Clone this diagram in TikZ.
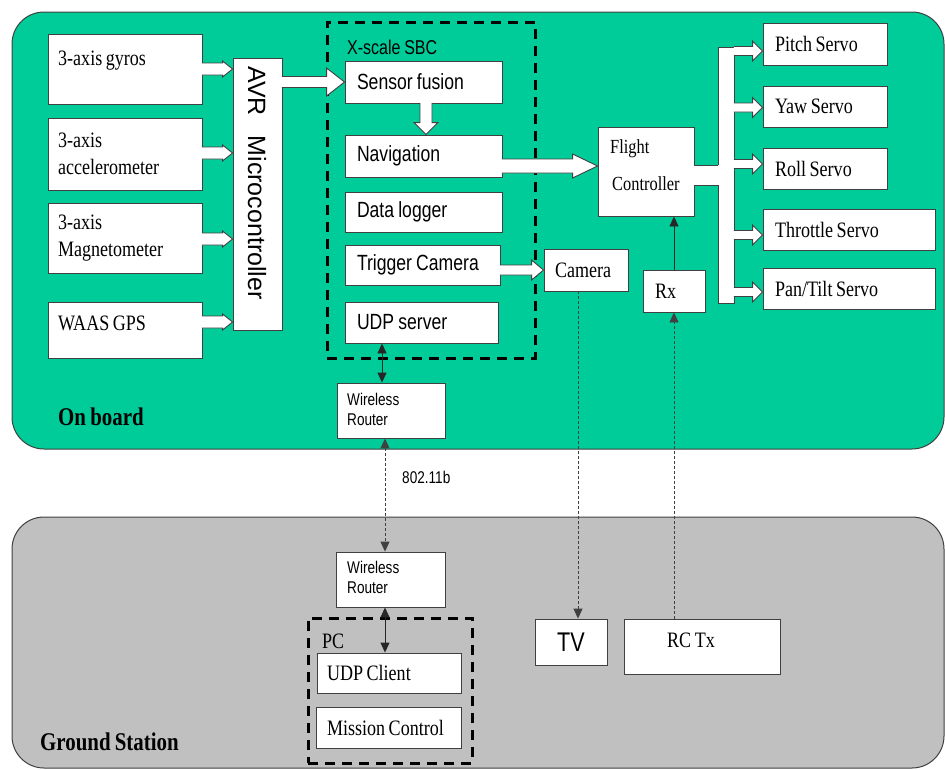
\documentclass[tikz,border=0pt]{standalone}
\usepackage{fontspec}
\setmainfont{Liberation Serif}
\newfontfamily\tms{Liberation Serif}[FakeStretch=0.82, WordSpace=0.8]
\newfontfamily\arl{Liberation Sans}[FakeStretch=0.8, WordSpace=0.85]
\newfontfamily\arlw{Liberation Sans}
\usetikzlibrary{calc,arrows.meta}
\definecolor{board}{RGB}{0,204,153}
\definecolor{ground}{RGB}{192,192,192}
\definecolor{edge}{RGB}{64,64,64}

\tikzset{
  bx/.style={draw=edge, fill=white, line width=0.9pt, inner ysep=0pt, align=flush left},
  serif/.style={font=\tms\fontsize{22}{27}\selectfont},
  sans/.style={font=\arl\fontsize{22}{26}\selectfont},
  small/.style={font=\arl\fontsize{17}{20}\selectfont},
  title/.style={font=\tms\bfseries\fontsize{25.5}{30}\selectfont, anchor=base west, inner sep=0pt},
  group/.style={draw=black, line width=3pt, dash pattern=on 10pt off 7pt, inner sep=0pt},
  blockarrow/.style={fill=white, draw=edge, line width=0.9pt, line join=miter},
  link/.style={draw=black!85, line width=0.9pt},
  radio/.style={draw=black!75, line width=0.9pt, dash pattern=on 3pt off 2pt},
  tip/.tip={Triangle[length=10pt,width=9pt]}
}

% horizontal block arrow: start, target (x only), half shaft, half head, head length
\newcommand{\harr}[5]{%
  \path[blockarrow] let \p1=(#1), \p2=(#2) in
    (\x1-0.6pt,\y1+#3) -- (\x2-#5,\y1+#3) -- (\x2-#5,\y1+#4) -- (\x2,\y1)
    -- (\x2-#5,\y1-#4) -- (\x2-#5,\y1-#3) -- (\x1-0.6pt,\y1-#3);}
% downward block arrow: start, target (y only), half shaft, half head, head length
\newcommand{\varr}[5]{%
  \path[blockarrow] let \p1=(#1), \p2=(#2) in
    (\x1+#3,\y1+0.6pt) -- (\x1+#3,\y2+#5) -- (\x1+#4,\y2+#5) -- (\x1,\y2)
    -- (\x1-#4,\y2+#5) -- (\x1-#3,\y2+#5) -- (\x1-#3,\y1+0.6pt);}

\begin{document}
\begin{tikzpicture}[x=1pt, y=-1pt]
\useasboundingbox (0,0) rectangle (945,769);

% the two regions
\draw[fill=board, draw=edge, line width=1pt, rounded corners=32pt] (12,12) rectangle (944,449);
\draw[fill=ground, draw=edge, line width=1pt, rounded corners=32pt] (12,517) rectangle (944,768);

% sensors
\node[bx, minimum width=154pt, minimum height=70pt] (gyro) at (125,69) {};
\node[serif, anchor=base west, inner sep=0pt] (gyrot) at (58,65) {3-axis gyros};
\node[bx, serif, minimum width=154pt, minimum height=72pt, text width=134pt, inner xsep=10pt] (acc) at (125,154) {3-axis\\accelerometer};
\node[bx, serif, minimum width=154pt, minimum height=70pt, text width=134pt, inner xsep=10pt] (mag) at (125,238) {3-axis\\Magnetometer};
\node[bx, minimum width=154pt, minimum height=56pt] (gps) at (125,330) {};
\node[serif, anchor=base west, inner sep=0pt] (gpst) at (58,330) {WAAS GPS};

% microcontroller
\node[bx, minimum width=49pt, minimum height=272pt] (avr) at (257.5,194) {};
\node[font=\arlw\fontsize{25}{30}\selectfont, rotate=-90, inner sep=0pt] (avrt) at (257,183) {AVR\hspace{0.8em}Microcontroller};

% single board computer
\node[group, minimum width=208pt, minimum height=336pt] (sbc) at (431,190) {};
\node[font=\arl\fontsize{20}{24}\selectfont, anchor=base west, inner sep=0pt] (sbct) at (347,54) {X-scale SBC};
\node[bx, sans, minimum width=157pt, minimum height=42pt, text width=133pt, inner xsep=12pt] (sf) at (423.5,82) {Sensor fusion};
\node[bx, sans, minimum width=157pt, minimum height=42pt, text width=133pt, inner xsep=12pt] (nav) at (423.5,156) {Navigation};
\node[bx, sans, minimum width=157pt, minimum height=40pt, text width=133pt, inner xsep=12pt] (dlog) at (423.5,212) {Data logger};
\node[bx, sans, minimum width=155pt, minimum height=40pt, text width=131pt, inner xsep=12pt] (trig) at (422.5,265) {Trigger Camera};
\node[bx, sans, minimum width=153pt, minimum height=41pt, text width=129pt, inner xsep=12pt] (udp) at (421.5,322.5) {UDP server};

% flight control
\node[bx, minimum width=96pt, minimum height=89pt] (flight) at (646,171.5) {};
\node[font=\tms\fontsize{20}{37}\selectfont, anchor=north west, inner sep=0pt, align=flush left] (flightt) at (610,139) {Flight\\\hspace*{2pt}Controller};
\node[bx, serif, minimum width=62pt, minimum height=42pt, text width=38pt, inner xsep=12pt] (rx) at (674,291) {Rx};
\node[bx, serif, minimum width=84pt, minimum height=42pt, text width=62pt, inner xsep=11pt] (cam) at (586,270) {Camera};

% servos
\node[bx, serif, minimum width=124pt, minimum height=42pt, text width=100pt, inner xsep=12pt] (pitch) at (825,44) {Pitch Servo};
\node[bx, serif, minimum width=124pt, minimum height=41pt, text width=100pt, inner xsep=12pt] (yaw) at (825,106.5) {Yaw Servo};
\node[bx, serif, minimum width=124pt, minimum height=41pt, text width=100pt, inner xsep=12pt] (roll) at (825,168.5) {Roll Servo};
\node[bx, serif, minimum width=172pt, minimum height=41pt, text width=148pt, inner xsep=12pt] (thr) at (849,229.5) {Throttle Servo};
\node[bx, serif, minimum width=172pt, minimum height=41pt, text width=148pt, inner xsep=12pt] (pan) at (849,288.5) {Pan/Tilt Servo};

% servo bus
\node[draw=edge, fill=white, line width=0.9pt, minimum width=16pt, minimum height=256pt, inner sep=0pt] (bus) at (726,175) {};
\fill[white] (693,165) rectangle (718.5,185);
\draw[draw=edge, line width=0.9pt] (694,165) -- (718,165) (694,185) -- (718,185);

% onboard router
\node[bx, minimum width=108pt, minimum height=55pt] (r1) at (391,410.5) {};
\node[small, anchor=north west, inner sep=0pt, align=flush left] (r1t) at (347,393) {Wireless\\Router};

% ground station
\node[bx, minimum width=109pt, minimum height=55pt] (r2) at (390.5,579.5) {};
\node[small, anchor=north west, inner sep=0pt, align=flush left] (r2t) at (347,561) {Wireless\\Router};
\node[group, minimum width=164pt, minimum height=145pt] (pc) at (390,690.5) {};
\node[serif, anchor=base west, inner sep=0pt] (pct) at (322,648) {PC};
\node[bx, serif, minimum width=144pt, minimum height=40pt, text width=124pt, inner xsep=10pt] (uc) at (389,673) {UDP Client};
\node[bx, serif, minimum width=145pt, minimum height=41pt, text width=123pt, inner xsep=11pt] (mc) at (388.5,727.5) {Mission Control};
\node[bx, font=\arl\fontsize{27}{30}\selectfont, minimum width=72pt, minimum height=46pt, align=center] (tv) at (571,642) {TV};
\node[bx, minimum width=156pt, minimum height=55pt] (rctx) at (702,646.5) {};
\node[serif, anchor=base west, inner sep=0pt] (rctxt) at (667,647) {RC Tx};

% region titles and link label
\node[title] (onb) at (58,425) {On board};
\node[title] (gst) at (40,750) {Ground Station};
\node[small, anchor=base west, inner sep=0pt] (wifi) at (402,483) {802.11b};

% block arrows
\harr{gyro.east}{avr.west}{6pt}{8pt}{10pt}
\harr{$(acc.east)+(0,-1)$}{avr.west}{6pt}{8pt}{10pt}
\harr{$(mag.east)+(0,1)$}{avr.west}{6pt}{8pt}{10pt}
\harr{$(gps.east)+(0,-8)$}{avr.west}{6pt}{8pt}{10pt}
\harr{avr.east |- sf.west}{sf.west}{5.5pt}{14pt}{18pt}
\varr{$(sf.south)+(2.5,0)$}{nav.north}{6pt}{12pt}{12pt}
\harr{$(nav.east)+(0,10)$}{flight.west}{7pt}{12pt}{25pt}
\harr{trig.east |- cam.west}{cam.west}{5pt}{10pt}{12pt}
\harr{$(bus.east |- pitch.west)+(0,7)$}{pitch.west}{4.5pt}{10pt}{10pt}
\harr{$(bus.east |- yaw.west)+(0,1)$}{yaw.west}{4.5pt}{10pt}{10pt}
\harr{$(bus.east |- roll.west)+(0,-4.5)$}{roll.west}{4.5pt}{10pt}{10pt}
\harr{$(bus.east |- thr.west)+(0,5.5)$}{thr.west}{4.5pt}{10pt}{10pt}
\harr{$(bus.east |- pan.west)+(0,3.5)$}{pan.west}{4.5pt}{10pt}{10pt}

% signal links
\coordinate (l1) at ($(r1.north)+(-9,0)$);
\coordinate (l2) at ($(r1.south)+(-6,0)$);
\coordinate (l3) at ($(r2.south)+(-5.5,0)$);
\coordinate (l4) at ($(cam.south)+(-8,0)$);
\draw[link, tip-tip] (l1 |- udp.south) -- (l1);
\draw[radio, tip-tip] (l2) -- (l2 |- r2.north);
\draw[link, tip-tip] (l3) -- (l3 |- uc.north);
\draw[radio, -tip] (l4) -- (l4 |- tv.north);
\draw[radio, -tip] (rctx.north -| rx.south) -- (rx.south);
\draw[link, -tip] (rx.north) -- (rx.north |- flight.south);
\end{tikzpicture}
\end{document}
